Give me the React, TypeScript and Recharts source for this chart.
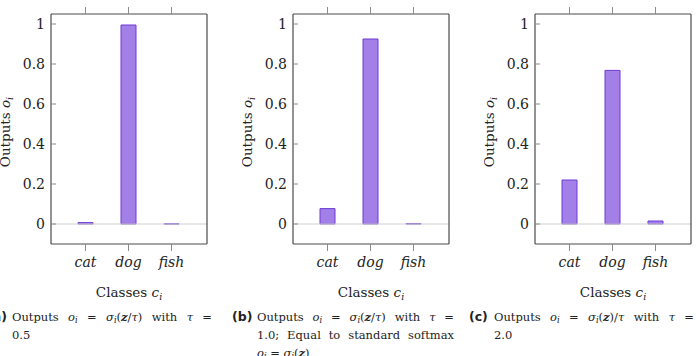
import React from "react";
import { BarChart, Bar, XAxis, YAxis, ReferenceLine } from "recharts";

const classes = ["cat", "dog", "fish"];
const outputsTau05 = [0.007, 0.995, 0.001];
const outputsTau10 = [0.077, 0.925, 0.002];
const outputsTau20 = [0.22, 0.768, 0.015];
const yTicks = [0, 0.2, 0.4, 0.6, 0.8, 1];
const yTickLabels = ["0", "0.2", "0.4", "0.6", "0.8", "1"];

const SERIF = '"DejaVu Serif", serif';
const SANS = '"DejaVu Sans", sans-serif';
const FILL = "#a280e8";
const EDGE = "#6d3bd4";
const FRAME = "#4a4a4a";
const TICK = "#8a8a8a";

const CHART_W = 232;
const CHART_H = 300;
const Y_AXIS_W = 51;
const RIGHT_W = 25;
const TOP = 13;
const X_AXIS_H = 56;

const XTitle = (props: any) => {
  const vb = props.viewBox || {};
  const cx = (vb.x ?? Y_AXIS_W) + (vb.width ?? 156) / 2;
  const y = (vb.y ?? 244) + 53;
  return (
    <text x={cx} y={y} textAnchor="middle" fontFamily={SERIF} fontSize={13.5} fill="#222">
      Classes <tspan fontStyle="italic">c</tspan>
      <tspan fontStyle="italic" fontSize={9.5} dy={3}>
        i
      </tspan>
    </text>
  );
};

const YTitle = () => {
  const x = 9.5;
  const y = 132;
  return (
    <text
      x={x}
      y={y}
      textAnchor="middle"
      transform={`rotate(-90, ${x}, ${y})`}
      fontFamily={SERIF}
      fontSize={13.5}
      fill="#222"
    >
      Outputs <tspan fontStyle="italic">o</tspan>
      <tspan fontStyle="italic" fontSize={9.5} dy={3}>
        i
      </tspan>
    </text>
  );
};

function Panel({ values, left }: { values: number[]; left: number }) {
  const data = classes.map((name, i) => ({ name, value: values[i] }));
  const pad = { left: 13, right: 14 };
  return (
    <div style={{ position: "absolute", left, top: 0 }}>
      <BarChart
        width={CHART_W}
        height={CHART_H}
        data={data}
        margin={{ top: TOP, right: 0, bottom: 0, left: 0 }}
        barSize={15}
      >
        <XAxis
          dataKey="name"
          padding={pad}
          height={X_AXIS_H}
          tickSize={7}
          tickMargin={6}
          axisLine={{ stroke: FRAME, strokeWidth: 1.2 }}
          tickLine={{ stroke: TICK }}
          tick={{ fontFamily: SERIF, fontStyle: "italic", fontSize: 14, fill: "#222" }}
          label={XTitle}
        />
        <XAxis
          xAxisId="top"
          orientation="top"
          dataKey="name"
          padding={pad}
          height={1}
          tickSize={7}
          axisLine={{ stroke: FRAME, strokeWidth: 1.2 }}
          tickLine={{ stroke: TICK }}
          tick={{ fontSize: 1, fill: "none" }}
        />
        <YAxis
          width={Y_AXIS_W}
          domain={[-0.1, 1.05]}
          ticks={yTicks}
          allowDataOverflow
          tickSize={-5}
          tickMargin={11}
          tickFormatter={(v: number) => yTickLabels[yTicks.indexOf(v)] ?? String(v)}
          axisLine={{ stroke: FRAME, strokeWidth: 1.2 }}
          tickLine={{ stroke: TICK }}
          tick={{ fontFamily: SERIF, fontSize: 14, fill: "#222" }}
          label={YTitle}
        />
        <YAxis
          yAxisId="right"
          orientation="right"
          width={RIGHT_W}
          domain={[-0.1, 1.05]}
          ticks={yTicks}
          allowDataOverflow
          tickSize={-5}
          axisLine={{ stroke: FRAME, strokeWidth: 1.2 }}
          tickLine={{ stroke: TICK }}
          tick={false}
        />
        <ReferenceLine y={0} stroke="#cfcfcf" strokeWidth={1} />
        <Bar dataKey="value" fill={FILL} stroke={EDGE} strokeWidth={1} isAnimationActive={false} />
      </BarChart>
    </div>
  );
}

const captionLines = [
  ["Outputs $o = σ(z/τ) with τ =", "0.5"],
  ["Outputs $o = σ(z/τ) with τ =", "1.0; Equal to standard softmax", "$f"],
  ["Outputs $o = σ(z)/τ with τ =", "2.0"],
];
const captionTags = ["(a)", "(b)", "(c)"];

const Sub = ({ children }: { children: React.ReactNode }) => (
  <sub style={{ fontSize: "0.72em", verticalAlign: "-0.25em", lineHeight: 0 }}>{children}</sub>
);

function FirstLine({ divided }: { divided: boolean }) {
  return (
    <>
      Outputs <i>o</i>
      <Sub><i>i</i></Sub> = <i>σ</i>
      <Sub><i>i</i></Sub>(<b><i>z</i></b>
      {divided ? <>/<i>τ</i>)</> : <>)/<i>τ</i></>} with <i>τ</i> =
    </>
  );
}

function Caption({ index, left, width }: { index: number; left: number; width: number }) {
  const lines = captionLines[index];
  return (
    <div
      style={{
        position: "absolute",
        left: left - 25,
        top: 308,
        display: "flex",
        fontFamily: SERIF,
        fontSize: 11.5,
        lineHeight: "18px",
        color: "#222",
      }}
    >
      <div style={{ width: 25, fontFamily: SANS, fontWeight: "bold", fontSize: 12.5 }}>{captionTags[index]}</div>
      <div style={{ width }}>
        {lines.map((line, i) => {
          const full = i < lines.length - 1;
          let content: React.ReactNode = line;
          if (line.startsWith("Outputs")) content = <FirstLine divided={index !== 2} />;
          if (line === "$f")
            content = (
              <>
                <i>o</i>
                <Sub><i>i</i></Sub> = <i>σ</i>
                <Sub><i>i</i></Sub>(<b><i>z</i></b>)
              </>
            );
          return (
            <div
              key={i}
              style={{
                textAlign: full ? "justify" : "left",
                textAlignLast: full ? "justify" : "left",
                whiteSpace: "nowrap",
              }}
            >
              {content}
            </div>
          );
        })}
      </div>
    </div>
  );
}

export default function App() {
  return (
    <div
      style={{
        position: "absolute",
        left: 0,
        top: 0,
        width: 696,
        height: 356,
        overflow: "hidden",
        background: "#fff",
      }}
    >
      <Panel values={outputsTau05} left={0} />
      <Panel values={outputsTau10} left={242} />
      <Panel values={outputsTau20} left={484} />
      <Caption index={0} left={12} width={200} />
      <Caption index={1} left={257} width={197} />
      <Caption index={2} left={494} width={200} />
    </div>
  );
}
